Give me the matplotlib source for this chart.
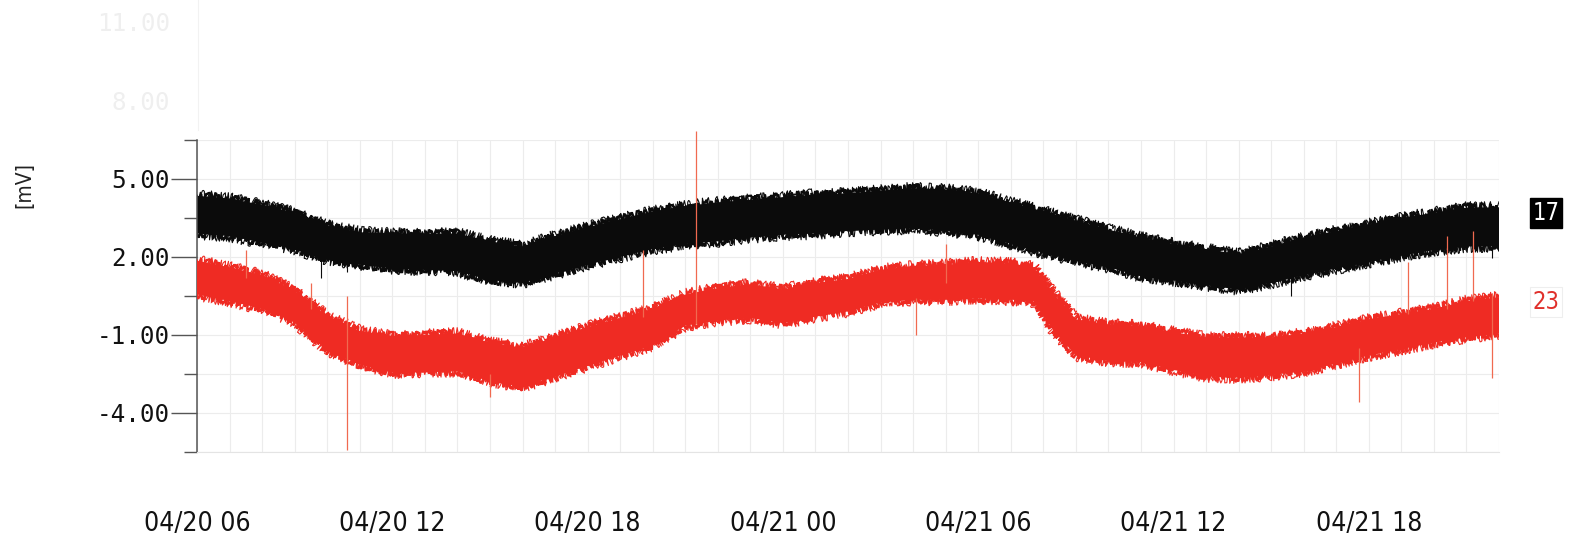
import matplotlib
matplotlib.use("Agg")
import matplotlib.pyplot as plt
from matplotlib import font_manager

# ---- data (hours from 04/20 06:00, millivolts) ----
black_t = list(range(41))
black_hi = [4.35, 4.25, 4.0, 3.7, 3.2, 2.95, 2.9, 2.9, 2.9, 2.6, 2.4, 2.8, 3.15,
            3.45, 3.75, 3.95, 4.1, 4.2, 4.3, 4.4, 4.45, 4.55, 4.65, 4.6, 4.45,
            4.1, 3.75, 3.4, 3.05, 2.75, 2.5, 2.3, 2.1, 2.4, 2.75, 3.0, 3.25,
            3.5, 3.7, 3.9, 3.9]
black_lo = [2.9, 2.8, 2.55, 2.3, 1.9, 1.7, 1.55, 1.5, 1.45, 1.1, 1.0, 1.35, 1.7,
            2.0, 2.3, 2.5, 2.6, 2.75, 2.85, 2.9, 3.0, 3.05, 3.1, 3.0, 2.85,
            2.5, 2.15, 1.85, 1.6, 1.25, 1.1, 0.9, 0.75, 1.0, 1.3, 1.55, 1.8,
            2.05, 2.25, 2.4, 2.4]

red_t = [0, 1, 2, 3, 4, 5, 6, 7, 8, 9, 10, 11, 12, 13, 14, 15, 16, 17, 18,
         19, 20, 21, 22, 23, 24, 25, 25.7, 26.3, 27, 28, 29, 30, 31, 32, 33,
         34, 35, 36, 37, 38, 39, 40]
red_hi = [1.85, 1.6, 1.3, 0.7, -0.3, -0.85, -1.05, -1.0, -0.95, -1.3, -1.5,
          -1.1, -0.7, -0.35, 0.0, 0.55, 0.8, 0.95, 0.75, 1.0, 1.15, 1.5, 1.65,
          1.7, 1.8, 1.75, 1.6, 0.6, -0.4, -0.6, -0.65, -0.9, -1.1, -1.1, -1.1,
          -0.95, -0.7, -0.4, -0.2, 0.0, 0.3, 0.45]
red_lo = [0.55, 0.3, 0.0, -0.5, -1.6, -2.15, -2.45, -2.45, -2.4, -2.8, -3.0,
          -2.6, -2.2, -1.8, -1.4, -0.65, -0.45, -0.35, -0.55, -0.3, -0.1, 0.25,
          0.35, 0.35, 0.4, 0.35, 0.3, -0.8, -1.8, -2.0, -2.05, -2.35, -2.6,
          -2.65, -2.55, -2.4, -2.1, -1.8, -1.55, -1.3, -1.1, -0.95]

# isolated spikes: time, lower end, upper end
red_spike_t = [1.5, 3.5, 4.6, 9.0, 13.7, 15.33, 22.1, 23.0, 35.7, 37.2, 38.4, 39.2, 39.8]
red_spike_lo = [1.2, 0.0, -5.45, -3.4, -0.3, -0.6, -1.0, 1.0, -3.6, -0.2, 0.0, 0.3, -2.65]
red_spike_hi = [2.25, 1.0, 0.5, -2.5, 2.25, 6.85, 0.4, 2.5, -1.5, 1.8, 2.8, 3.0, 0.6]

black_spike_t = [3.8, 4.6, 33.6, 39.8]
black_spike_lo = [1.2, 1.4, 0.5, 1.95]
black_spike_hi = [2.4, 2.0, 1.2, 2.6]

tick_hours = [0, 6, 12, 18, 24, 30, 36]
tick_labels = ["04/20 06", "04/20 12", "04/20 18", "04/21 00",
               "04/21 06", "04/21 12", "04/21 18"]
channels = ["17", "23"]

BLACK = "#0b0b0b"
RED = "#ef2b23"

# ---- fonts ----
_names = {f.name for f in font_manager.fontManager.ttflist}
if "Liberation Sans Narrow" in _names:
    narrow = dict(family="Liberation Sans Narrow")
elif any(f.name == "DejaVu Sans" and f.stretch == "condensed"
         for f in font_manager.fontManager.ttflist):
    narrow = dict(family="DejaVu Sans", stretch="condensed")
else:
    narrow = dict(family="DejaVu Sans Mono")
mono = dict(family="DejaVu Sans Mono")

W, H = 1589, 537
fig = plt.figure(figsize=(W / 100, H / 100), dpi=100)
fig.patch.set_facecolor("white")

x0, x1, ytop, ybot = 197, 1499, 140, 451.7
ax = fig.add_axes([x0 / W, 1 - ybot / H, (x1 - x0) / W, (ybot - ytop) / H])
ax.set_xlim(0, 40)
ax.set_ylim(-5.5, 6.5)

# grid
for h in range(0, 41):
    ax.axvline(h, color="#ececec", lw=0.8, zorder=0)
for v in [-5.5, -4.0, -2.5, -1.0, 0.5, 2.0, 3.5, 5.0, 6.5]:
    ax.axhline(v, color="#ececec", lw=0.8, zorder=0)


def noisy_band(t, lo, hi, color, z):
    """Filled envelope whose edges are stroked with a jittery sketch line."""
    ax.fill_between(t, lo, hi, facecolor=color, edgecolor="none", zorder=z)
    for edge in (lo, hi):
        ln, = ax.plot(t, edge, color=color, lw=1.6, zorder=z,
                      solid_joinstyle="miter")
        ln.set_sketch_params(scale=4.0, length=1.2, randomness=8)
        ln2, = ax.plot(t, edge, color=color, lw=0.8, zorder=z)
        ln2.set_sketch_params(scale=6.0, length=2.5, randomness=10)


noisy_band(black_t, black_lo, black_hi, BLACK, 2)
ax.vlines(black_spike_t, black_spike_lo, black_spike_hi, color=BLACK,
          lw=0.8, zorder=2)
noisy_band(red_t, red_lo, red_hi, RED, 3)
ax.vlines(red_spike_t, red_spike_lo, red_spike_hi, color="#f06a50",
          lw=0.9, zorder=3, clip_on=False)

# axes styling
for s in ["top", "right"]:
    ax.spines[s].set_visible(False)
ax.spines["bottom"].set_color("#e4e4e4")
ax.spines["bottom"].set_linewidth(0.8)
ax.spines["left"].set_color("#555555")
ax.spines["left"].set_linewidth(1.1)

ax.set_yticks([-4.0, -1.0, 2.0, 5.0])
ax.set_yticks([-5.5, -2.5, 0.5, 3.5, 6.5], minor=True)
ax.set_yticklabels([f"{v:.2f}" for v in [-4.0, -1.0, 2.0, 5.0]], **mono,
                   fontsize=17.5, color="#111111")
ax.tick_params(axis="y", which="major", length=18.5, width=1.0,
               color="#555555", pad=1)
ax.tick_params(axis="y", which="minor", length=9.5, width=1.0,
               color="#555555")

ax.set_xticks(tick_hours)
ax.set_xticklabels(tick_labels, **narrow, fontsize=19, color="#111111")
ax.tick_params(axis="x", length=0, pad=43)

# unit label
fig.text(24 / W, 1 - 185 / H, "[mV]", rotation=90, ha="center", va="center",
         fontsize=15, color="#222222", **narrow)

# faint labels of the neighbouring scale
fig.text(170 / W, 1 - 24 / H, "11.00", ha="right", va="center",
         fontsize=17.5, color="#efefef", **mono)
fig.text(170 / W, 1 - 103 / H, "8.00", ha="right", va="center",
         fontsize=17.5, color="#efefef", **mono)
fig.add_artist(plt.Line2D([198 / W, 198 / W], [1 - 130 / H, 1.0],
                          color="#f2f2f2", lw=0.8))

# channel tags
fig.text(1546 / W, 1 - 213 / H, channels[0], ha="center", va="center",
         fontsize=17, color="white", **narrow,
         bbox=dict(boxstyle="square,pad=0.12", facecolor="black",
                   edgecolor="black"))
fig.text(1546 / W, 1 - 302 / H, channels[1], ha="center", va="center",
         fontsize=17, color="#e0302b", **narrow,
         bbox=dict(boxstyle="square,pad=0.12", facecolor="white",
                   edgecolor="#eeeeee", lw=0.8))

fig.savefig("out.png", dpi=100, facecolor="white")
